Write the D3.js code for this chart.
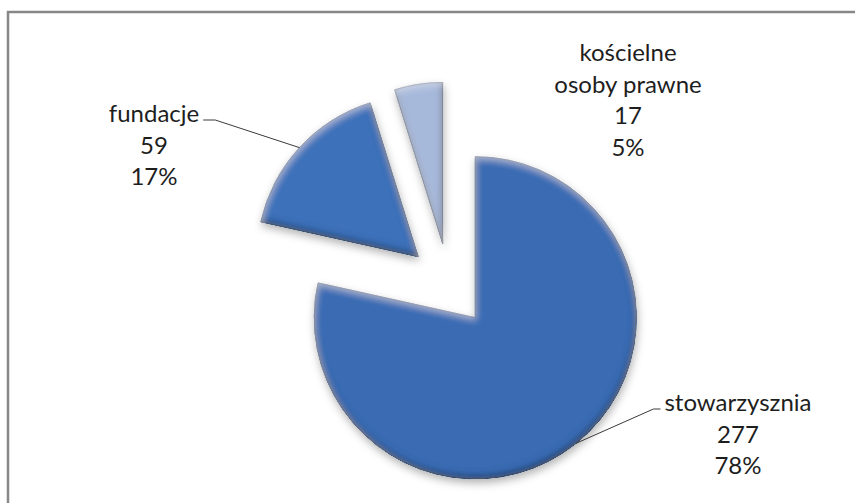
<!DOCTYPE html>
<html>
<head>
<meta charset="utf-8">
<script src="https://cdn.jsdelivr.net/npm/d3@7"></script>
<style>
  html, body { margin: 0; padding: 0; background: #fff; }
  svg { display: block; }
</style>
</head>
<body>
<div id="chart"></div>
<script>
// Dane wykresu
const categories = ['stowarzysznia', 'fundacje', 'kościelne osoby prawne'];
const values = [277, 59, 17];
const percentLabels = ['78%', '17%', '5%'];
const labelLines = [['stowarzysznia'], ['fundacje'], ['kościelne', 'osoby prawne']];

// Układ
const W = 855, H = 503;
const cx = 449, cy = 285, radius = 161, explode = 42;
const colors = ['#3a6cb3', '#3d71b9', '#a7b9db'];
// pozycje etykiet (środek tekstu, pierwsza linia bazowa)
const labelLayout = [
    { x: 738, y: 411, leader: true },
    { x: 154, y: 122, leader: true },
    { x: 628, y: 61, leader: false }
];
const lineH = 31.5;

const svg = d3.select('#chart').append('svg')
    .attr('width', W)
    .attr('height', H);

// Filtr: faza (bevel) + cień
const defs = svg.append('defs');
const f = defs.append('filter').attr('id', 'bevel')
    .attr('x', '-20%').attr('y', '-20%').attr('width', '140%').attr('height', '140%');
f.append('feGaussianBlur').attr('in', 'SourceAlpha').attr('stdDeviation', 3.5).attr('result', 'blur');
f.append('feOffset').attr('in', 'blur').attr('dx', -1).attr('dy', -3).attr('result', 'blurUp');
f.append('feComposite').attr('in', 'SourceAlpha').attr('in2', 'blurUp')
    .attr('operator', 'arithmetic').attr('k2', 1).attr('k3', -1).attr('result', 'edgeDark');
f.append('feOffset').attr('in', 'blur').attr('dx', 1).attr('dy', 3).attr('result', 'blurDown');
f.append('feComposite').attr('in', 'SourceAlpha').attr('in2', 'blurDown')
    .attr('operator', 'arithmetic').attr('k2', 1).attr('k3', -1).attr('result', 'edgeLight');
f.append('feFlood').attr('flood-color', '#0a1c38').attr('flood-opacity', 0.9).attr('result', 'darkCol');
f.append('feComposite').attr('in', 'darkCol').attr('in2', 'edgeDark').attr('operator', 'in').attr('result', 'dark');
f.append('feFlood').attr('flood-color', '#ffffff').attr('flood-opacity', 0.4).attr('result', 'lightCol');
f.append('feComposite').attr('in', 'lightCol').attr('in2', 'edgeLight').attr('operator', 'in').attr('result', 'light');
f.append('feGaussianBlur').attr('in', 'SourceAlpha').attr('stdDeviation', 4).attr('result', 'sb');
f.append('feOffset').attr('in', 'sb').attr('dx', 1).attr('dy', 4).attr('result', 'so');
f.append('feFlood').attr('flood-color', '#000').attr('flood-opacity', 0.3).attr('result', 'sc');
f.append('feComposite').attr('in', 'sc').attr('in2', 'so').attr('operator', 'in').attr('result', 'shadow');
const m = f.append('feMerge');
['shadow', 'SourceGraphic', 'dark', 'light'].forEach(n => m.append('feMergeNode').attr('in', n));

// Ramka wykresu (ucięta z prawej i u dołu)
svg.append('rect')
    .attr('x', 8).attr('y', 12)
    .attr('width', W + 20).attr('height', H + 20)
    .attr('fill', 'none')
    .attr('stroke', '#878787')
    .attr('stroke-width', 2.5);

const pie = d3.pie().sort(null).startAngle(0).endAngle(2 * Math.PI);
const arcs = pie(values);
const arc = d3.arc().innerRadius(0).outerRadius(radius);

const g = svg.append('g').attr('transform', `translate(${cx},${cy})`);

// Przesunięcie wycinka (eksplozja)
function offset(d) {
    const a = (d.startAngle + d.endAngle) / 2;
    return [explode * Math.sin(a), -explode * Math.cos(a)];
}

g.selectAll('.slice')
    .data(arcs)
    .enter()
    .append('path')
    .attr('class', 'slice')
    .attr('transform', d => `translate(${offset(d)[0]},${offset(d)[1]})`)
    .attr('d', arc)
    .attr('fill', (d, i) => colors[i])
    .attr('stroke', (d, i) => d3.color(colors[i]).darker(0.9))
    .attr('stroke-width', 1)
    .attr('filter', 'url(#bevel)');

// Linie odniesienia
arcs.forEach((d, i) => {
    const L = labelLayout[i];
    if (!L.leader) return;
    const a = (d.startAngle + d.endAngle) / 2;
    const [ox, oy] = offset(d);
    const px = cx + ox + radius * Math.sin(a);
    const py = cy + oy - radius * Math.cos(a);
    const w = textWidth(labelLines[i][0]);
    const right = px > L.x;
    const ex = right ? L.x + w / 2 + 4 : L.x - w / 2 - 4;
    const ey = L.y - 2;
    const kx = right ? ex + 12 : ex - 7;
    svg.append('path')
        .attr('d', `M${px},${py}L${kx},${ey}L${ex},${ey}`)
        .attr('fill', 'none')
        .attr('stroke', '#3a3a3a')
        .attr('stroke-width', 1);
});

// Etykiety
arcs.forEach((d, i) => {
    const L = labelLayout[i];
    const lines = labelLines[i].concat([String(values[i]), percentLabels[i]]);
    const t = svg.append('text')
        .attr('text-anchor', 'middle')
        .style('font-family', 'Lato, "Open Sans", sans-serif')
        .style('font-size', '24px')
        .style('fill', '#1e1e1e');
    lines.forEach((s, k) => {
        t.append('tspan').attr('x', L.x).attr('y', L.y + k * lineH).text(s);
    });
});

function textWidth(s) {
    const t = svg.append('text')
        .style('font-family', 'Lato, "Open Sans", sans-serif')
        .style('font-size', '24px')
        .text(s);
    const w = t.node().getComputedTextLength();
    t.remove();
    return w;
}
</script>
</body>
</html>
